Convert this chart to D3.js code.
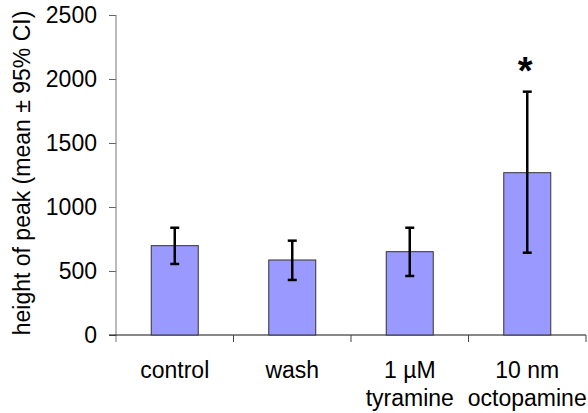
<!DOCTYPE html>
<html>
<head>
<meta charset="utf-8">
<script src="https://cdn.jsdelivr.net/npm/d3@7"></script>
<style>
  body { margin: 0; background: #fff; }
  text { font-family: "Liberation Sans", Arial, sans-serif; }
</style>
</head>
<body>
<svg id="chart" width="588" height="413"></svg>
<script>
// data
const categories = ["control", "wash", "1 µM\ntyramine", "10 nm\noctopamine"];
const means = [698, 586, 651, 1268];
const ciLow = [555, 430, 461, 643];
const ciHigh = [838, 737, 838, 1901];
const significant = [false, false, false, true];
const yTicks = [0, 500, 1000, 1500, 2000, 2500];

// set the dimensions of the plot area
const margin = { top: 15, right: 2, bottom: 78, left: 116 },
    width = 588 - margin.left - margin.right,
    height = 413 - margin.top - margin.bottom;

const svg = d3.select("#chart")
    .append("g")
    .attr("transform", `translate(${margin.left}, ${margin.top})`);

const x = d3.scaleBand()
    .domain(categories)
    .range([0, width])
    .paddingInner(0.6)
    .paddingOuter(0.3);

const y = d3.scaleLinear()
    .domain([0, 2500])
    .range([height, 0]);

// y axis
const yAxis = svg.append("g")
    .call(d3.axisLeft(y).tickValues(yTicks).tickFormat(d3.format("d")).tickSize(7).tickPadding(12));
yAxis.select(".domain").remove();
yAxis.selectAll(".tick line").attr("stroke", "#666");
yAxis.selectAll(".tick text")
    .style("font-size", "23px")
    .attr("fill", "#000");
svg.append("line")
    .attr("x1", 0).attr("x2", 0)
    .attr("y1", y(2500)).attr("y2", height + 7)
    .attr("stroke", "#777");

// x axis line and boundary ticks
svg.append("line")
    .attr("x1", -7).attr("x2", width)
    .attr("y1", height).attr("y2", height)
    .attr("stroke", "#111");
const bounds = categories.map(c => x(c) - x.step() * 0.3).concat([width]);
svg.selectAll(".xtick")
    .data(bounds.slice(1))
    .enter()
    .append("line")
    .attr("x1", d => d).attr("x2", d => d)
    .attr("y1", height).attr("y2", height + 7)
    .attr("stroke", "#444");

// category labels
const labels = svg.selectAll(".xlabel")
    .data(categories)
    .enter()
    .append("text")
    .attr("text-anchor", "middle")
    .attr("x", d => x(d) + x.bandwidth() / 2)
    .attr("y", height + 43)
    .style("font-size", "23px")
    .attr("fill", "#000");
labels.selectAll("tspan")
    .data(d => d.split("\n"))
    .enter()
    .append("tspan")
    .attr("x", function () { return this.parentNode.getAttribute("x"); })
    .attr("dy", (d, i) => i === 0 ? 0 : 28)
    .text(d => d);

// bars
svg.selectAll(".bar")
    .data(categories)
    .enter()
    .append("rect")
    .attr("x", d => x(d))
    .attr("y", (d, i) => y(means[i]))
    .attr("width", x.bandwidth())
    .attr("height", (d, i) => height - y(means[i]))
    .attr("fill", "#9999ff")
    .attr("stroke", "#333")
    .attr("stroke-width", 1);

// error bars
const cap = 4.5;
const err = svg.selectAll(".err")
    .data(categories)
    .enter()
    .append("g")
    .attr("stroke", "#000")
    .attr("stroke-width", 2.5);
err.append("line")
    .attr("x1", d => x(d) + x.bandwidth() / 2)
    .attr("x2", d => x(d) + x.bandwidth() / 2)
    .attr("y1", (d, i) => y(ciLow[i]))
    .attr("y2", (d, i) => y(ciHigh[i]));
err.append("line")
    .attr("x1", d => x(d) + x.bandwidth() / 2 - cap)
    .attr("x2", d => x(d) + x.bandwidth() / 2 + cap)
    .attr("y1", (d, i) => y(ciHigh[i]))
    .attr("y2", (d, i) => y(ciHigh[i]));
err.append("line")
    .attr("x1", d => x(d) + x.bandwidth() / 2 - cap)
    .attr("x2", d => x(d) + x.bandwidth() / 2 + cap)
    .attr("y1", (d, i) => y(ciLow[i]))
    .attr("y2", (d, i) => y(ciLow[i]));

// significance marks
svg.selectAll(".sig")
    .data(categories.filter((d, i) => significant[i]))
    .enter()
    .append("text")
    .attr("text-anchor", "middle")
    .attr("x", d => x(d) + x.bandwidth() / 2 - 2)
    .attr("y", d => y(ciHigh[categories.indexOf(d)]) - 8)
    .style("font-size", "38px")
    .style("font-weight", "bold")
    .text("*");

// y axis title
svg.append("text")
    .attr("transform", `translate(${30 - margin.left}, ${173 - margin.top}) rotate(-90)`)
    .attr("text-anchor", "middle")
    .style("font-size", "23px")
    .attr("fill", "#000")
    .text("height of peak (mean ± 95% CI)");
</script>
</body>
</html>
